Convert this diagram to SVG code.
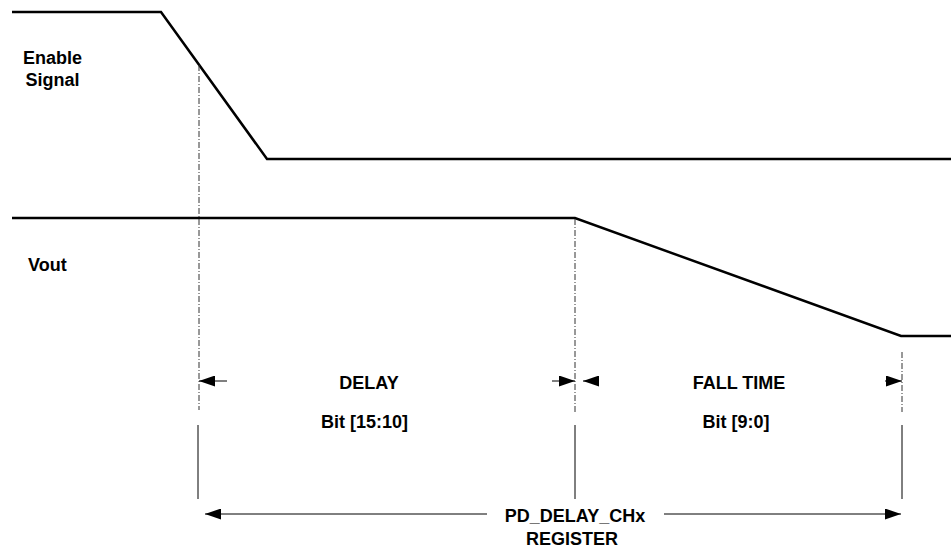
<svg xmlns="http://www.w3.org/2000/svg" width="951" height="548" viewBox="0 0 951 548">
<style>
.sig{fill:none;stroke:#000;stroke-width:2.5;stroke-linejoin:miter}
.dim{fill:none;stroke:#000;stroke-width:1}
.dash{fill:none;stroke:#333;stroke-width:1;stroke-dasharray:6,2,1,2}
.t{font-family:"Liberation Sans",Arial,sans-serif;font-weight:bold;font-size:18px;fill:#000}
.c{text-anchor:middle}
</style>
<defs>
<marker id="ah" markerUnits="userSpaceOnUse" markerWidth="16" markerHeight="11" refX="16" refY="5.5" orient="auto">
<path d="M0,0 L16,5.5 L0,11 z" fill="#000"/>
</marker>
</defs>
<rect width="951" height="548" fill="#fff"/>
<g id="enable-signal">
<polyline class="sig" points="12,12 161,12 267,159 951,159"/>
<text class="t c" x="52.5" y="64">Enable</text>
<text class="t c" x="52.5" y="86">Signal</text>
</g>
<g id="vout">
<polyline class="sig" points="12,218 575,218 901,336 951,336"/>
<text class="t" x="28" y="271">Vout</text>
</g>
<g id="guides">
<line class="dash" x1="199" y1="65" x2="199" y2="410"/>
<line class="dash" x1="575" y1="219" x2="575" y2="412"/>
<line class="dash" x1="902" y1="352" x2="902" y2="412"/>
<line class="dim" x1="198" y1="425" x2="198" y2="499"/>
<line class="dim" x1="575" y1="425" x2="575" y2="499"/>
<line class="dim" x1="902" y1="425" x2="902" y2="499"/>
</g>
<g id="connectors">
<line class="dim" x1="227" y1="381" x2="199" y2="381" marker-end="url(#ah)"/>
<line class="dim" x1="552" y1="381" x2="575" y2="381" marker-end="url(#ah)"/>
<line class="dim" x1="599" y1="381" x2="583" y2="381" marker-end="url(#ah)"/>
<line class="dim" x1="885" y1="381" x2="902" y2="381" marker-end="url(#ah)"/>
<line class="dim" x1="487" y1="514" x2="205" y2="514" marker-end="url(#ah)"/>
<line class="dim" x1="664" y1="514" x2="901" y2="514" marker-end="url(#ah)"/>
</g>
<g id="delay">
<text class="t c" x="369" y="389">DELAY</text>
<text class="t c" x="364.5" y="428">Bit [15:10]</text>
</g>
<g id="fall-time">
<text class="t c" x="739" y="389">FALL TIME</text>
<text class="t c" x="736" y="428">Bit [9:0]</text>
</g>
<g id="register">
<text class="t c" x="575" y="522">PD_DELAY_CHx</text>
<text class="t c" x="572" y="545">REGISTER</text>
</g>
</svg>
